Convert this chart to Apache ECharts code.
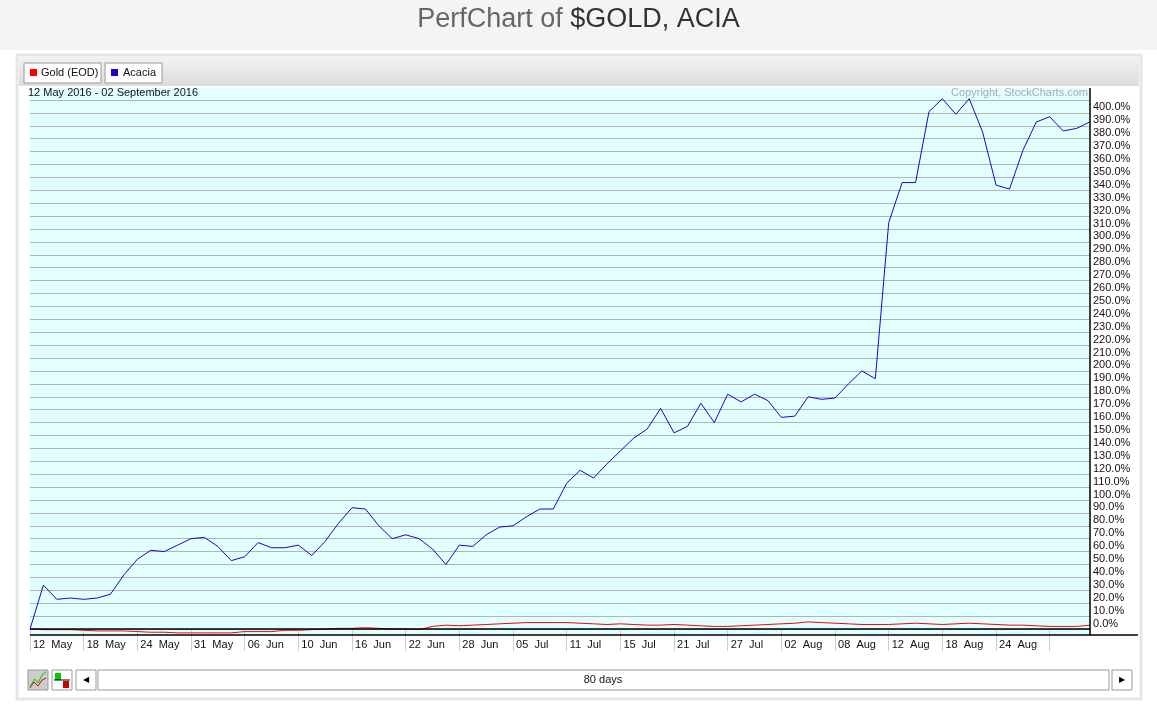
<!DOCTYPE html>
<html><head><meta charset="utf-8">
<script src="https://cdn.jsdelivr.net/npm/echarts@6/dist/echarts.min.js"></script>
<style>html,body{margin:0;padding:0;background:#fff}#c{width:1157px;height:711px}</style>
</head><body><div id="c"></div>
<script>
const dates = [
  "12 May","13 May","16 May","17 May","18 May","19 May","20 May","23 May","24 May","25 May","26 May","27 May","31 May",
  "01 Jun","02 Jun","03 Jun","06 Jun","07 Jun","08 Jun","09 Jun","10 Jun","13 Jun","14 Jun","15 Jun","16 Jun","17 Jun",
  "20 Jun","21 Jun","22 Jun","23 Jun","24 Jun","27 Jun","28 Jun","29 Jun","30 Jun",
  "01 Jul","05 Jul","06 Jul","07 Jul","08 Jul","11 Jul","12 Jul","13 Jul","14 Jul","15 Jul","18 Jul","19 Jul","20 Jul",
  "21 Jul","22 Jul","25 Jul","26 Jul","27 Jul","28 Jul","29 Jul",
  "01 Aug","02 Aug","03 Aug","04 Aug","05 Aug","08 Aug","09 Aug","10 Aug","11 Aug","12 Aug","15 Aug","16 Aug","17 Aug",
  "18 Aug","19 Aug","22 Aug","23 Aug","24 Aug","25 Aug","26 Aug","29 Aug","30 Aug","31 Aug","01 Sep","02 Sep"
];
const acacia = [
  0,34,23,24,23,24,27,42,54,61,60,65,70,71,
  64,53,56,67,63,63,65,57,68,82,
  94,93,80,70,73,70,62,50,65,64,
  73,79,80,87,93,93,113,123,117,128,
  138,148,155,171,152,157,175,160,182,176,
  182,177,164,165,180,178,179,190,200,194,
  315,346,346,401,411,399,411,385,344,341,
  371,393,397,386,388,393
];
const gold = [
  0,-0.5,-0.5,-0.5,-1,-1.5,-1.5,-1.5,-2,-2.5,
  -2.5,-3,-3,-3,-3,-3,-2,-2,-2,-1,
  -1,-0.5,0,0.5,0.5,1,0.5,0,0,-0.5,
  2,3,2.5,3,3.5,4,4.5,5,5,5,
  5,4.5,4,3.5,4,3.5,3,3,3.5,3,
  2.5,2,2,2.5,3,3.5,4,4.5,5.5,5,
  4.5,4,3.5,3.5,3.5,4,4.5,4,3.5,4,
  4.5,4,3.5,3,3,2.5,2,2,2,3
];
const labelIdx = [0,4,8,12,16,20,24,28,32,36,40,44,48,52,56,60,64,68,72];

const chart = echarts.init(document.getElementById('c'));
const F = 'Arial, "Liberation Sans", sans-serif';

chart.setOption({
  animation: false,
  textStyle: { fontFamily: F },
  grid: { left: 30, right: 67, top: 100, bottom: 82 },
  xAxis: {
    type: 'category', data: dates, boundaryGap: false,
    axisLine: { show: false },
    axisTick: { show: true, interval: 3, length: 22, lineStyle: { color: '#cfcfcf' } },
    axisLabel: {
      interval: 3, align: 'left', margin: 10, padding: [0, 0, 0, 3],
      color: '#111', fontSize: 11,
      formatter: (v, i) => labelIdx.includes(i) ? v.replace(' ', '  ') : ''
    },
    splitLine: { show: false }
  },
  yAxis: {
    type: 'value', position: 'right', min: 0, max: 410, interval: 10,
    axisLine: { show: false }, axisTick: { show: false },
    axisLabel: { margin: 3, fontSize: 11, color: '#111', verticalAlign: 'bottom', formatter: v => v > 400 ? '' : v.toFixed(1) + '%' },
    splitLine: { lineStyle: { color: '#b4b4b4', width: 1 } }
  },
  graphic: [
    { type: 'rect', shape: { x: 0, y: 0, width: 1157, height: 50 }, style: { fill: '#f4f4f4' }, z: -10 },
    { type: 'text', left: 'center', top: 6, style: { rich: { a: { fill: '#666', fontSize: 27, fontFamily: F }, b: { fill: '#333', fontSize: 27, fontFamily: F } }, text: '{a|PerfChart of }{b|$GOLD, ACIA}' } },
    { type: 'rect', shape: { x: 17, y: 55, width: 1124, height: 644 }, style: { fill: '#fff', stroke: '#e6e6e6', lineWidth: 3 }, z: -10 },
    { type: 'rect', shape: { x: 19, y: 57, width: 1120, height: 29 }, style: { fill: new echarts.graphic.LinearGradient(0, 0, 0, 1, [{ offset: 0, color: '#f2f2f2' }, { offset: 1, color: '#dcdcdc' }]) }, z: -9 },
    { type: 'rect', shape: { x: 24, y: 63, width: 77, height: 20 }, style: { fill: '#fff', stroke: '#999' } },
    { type: 'rect', shape: { x: 30, y: 69, width: 7, height: 7 }, style: { fill: '#ff0000' } },
    { type: 'text', x: 41, y: 67, style: { text: 'Gold (EOD)', fontSize: 11, fill: '#111', fontFamily: F } },
    { type: 'rect', shape: { x: 105, y: 63, width: 57, height: 20 }, style: { fill: '#fff', stroke: '#999' } },
    { type: 'rect', shape: { x: 111, y: 69, width: 7, height: 7 }, style: { fill: '#2200cc' } },
    { type: 'text', x: 123, y: 67, style: { text: 'Acacia', fontSize: 11, fill: '#111', fontFamily: F } },
    { type: 'text', x: 28, y: 87, style: { text: '12 May 2016 - 02 September 2016', fontSize: 11, fill: '#111', fontFamily: F } },
    { type: 'text', x: 1088, y: 87, style: { text: 'Copyright, StockCharts.com', fontSize: 11, fill: '#aaa', fontFamily: F, align: 'right' } },
    { type: 'rect', shape: { x: 30, y: 88, width: 1060, height: 547 }, style: { fill: '#e2ffff' }, z: -8 },
    { type: 'line', shape: { x1: 30, y1: 629, x2: 1090, y2: 629 }, style: { stroke: '#000', lineWidth: 1.5 }, z: 5 },
    { type: 'line', shape: { x1: 30, y1: 635, x2: 1138, y2: 635 }, style: { stroke: '#000', lineWidth: 1.5 }, z: 5 },
    { type: 'line', shape: { x1: 1090, y1: 88, x2: 1090, y2: 635 }, style: { stroke: '#000', lineWidth: 1.5 }, z: 5 },
    { type: 'rect', shape: { x: 28, y: 670, width: 20, height: 20 }, style: { fill: '#ccc', stroke: '#999' } },
    { type: 'polyline', shape: { points: [[30, 686], [35, 679], [38, 683], [42, 675], [46, 672]] }, style: { stroke: '#0c0', fill: null } },
    { type: 'polyline', shape: { points: [[30, 688], [34, 682], [38, 686], [42, 680], [46, 678]] }, style: { stroke: '#d00', fill: null } },
    { type: 'rect', shape: { x: 52, y: 670, width: 20, height: 20 }, style: { fill: '#fff', stroke: '#999' } },
    { type: 'rect', shape: { x: 55, y: 673, width: 6, height: 7 }, style: { fill: '#0c0' } },
    { type: 'rect', shape: { x: 63, y: 681, width: 6, height: 7 }, style: { fill: '#c00' } },
    { type: 'line', shape: { x1: 54, y1: 680, x2: 70, y2: 680 }, style: { stroke: '#000' } },
    { type: 'rect', shape: { x: 76, y: 670, width: 20, height: 20 }, style: { fill: '#fff', stroke: '#999' } },
    { type: 'text', x: 86, y: 680, style: { text: '◀', fontSize: 8, fill: '#000', align: 'center', verticalAlign: 'middle' } },
    { type: 'rect', shape: { x: 98, y: 670, width: 1011, height: 20 }, style: { fill: '#fff', stroke: '#999' } },
    { type: 'text', x: 603, y: 680, style: { text: '80 days', fontSize: 11, fill: '#111', align: 'center', verticalAlign: 'middle', fontFamily: F } },
    { type: 'rect', shape: { x: 1112, y: 670, width: 20, height: 20 }, style: { fill: '#fff', stroke: '#999' } },
    { type: 'text', x: 1122, y: 680, style: { text: '▶', fontSize: 8, fill: '#000', align: 'center', verticalAlign: 'middle' } }
  ],
  series: [
    { name: 'Gold (EOD)', type: 'line', data: gold, showSymbol: false, clip: false, lineStyle: { color: '#ff0000', width: 1 }, z: 3 },
    { name: 'Acacia', type: 'line', data: acacia, showSymbol: false, clip: false, lineStyle: { color: '#2200cc', width: 1 }, z: 4 }
  ]
});
</script></body></html>
